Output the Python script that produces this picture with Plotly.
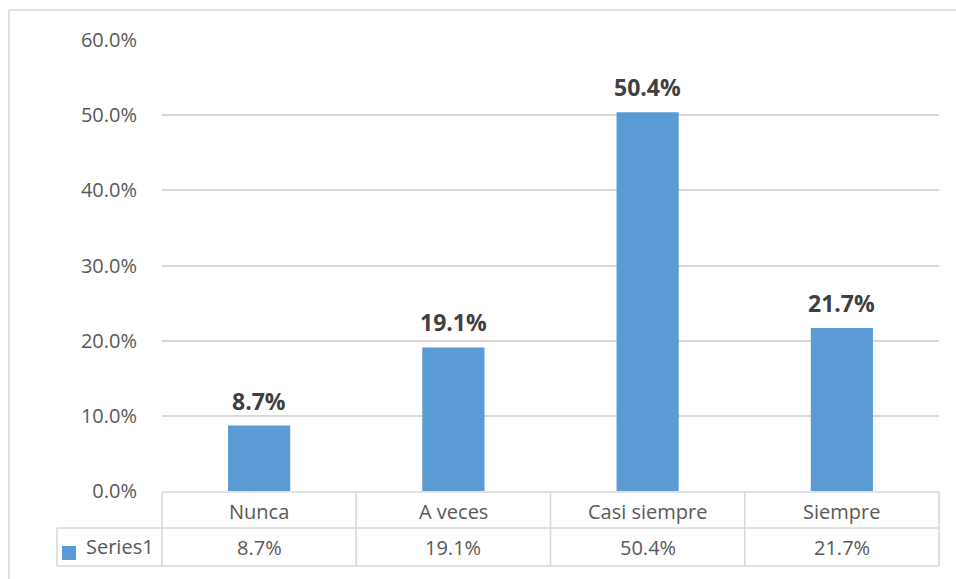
import plotly.graph_objects as go

categories = ["Nunca", "A veces", "Casi siempre", "Siempre"]
values = [8.7, 19.1, 50.4, 21.7]
series_name = "Series1"
y_ticks = [0, 10, 20, 30, 40, 50, 60]

W, H = 956, 579
L, R, T, B = 162, 17, 40, 88
PW, PH = W - L - R, H - T - B
BAR = "#5B9BD5"
GRID = "#D9D9D9"
TXT = "#595959"
FONT = "Open Sans"
FS = 20


def px_x(x):
    return (x - L) / PW


def px_y(y):
    return (H - B - y) / PH


fig = go.Figure()
fig.add_trace(go.Bar(
    x=list(range(len(categories))), y=values, width=0.32,
    marker=dict(color=BAR, line=dict(width=0)),
    name=series_name, showlegend=False, hoverinfo="skip",
))

shapes = []
annotations = []
line = dict(color=GRID, width=1.6)

# data labels
for i, v in enumerate(values):
    annotations.append(dict(
        x=i, y=v, xref="x", yref="y", text=f"<b>{v:.1f}%</b>",
        showarrow=False, xanchor="center", yanchor="bottom", yshift=7,
        font=dict(family=FONT, size=23, color="#404040"),
    ))

# data table
y_top, y_mid, y_bot = 492, 528, 566
x_left = 57
col_edges = [L + PW * k / len(categories) for k in range(len(categories) + 1)]
shapes.append(dict(type="line", xref="paper", yref="paper",
                   x0=px_x(L), x1=px_x(L + PW), y0=px_y(y_top), y1=px_y(y_top), line=line))
for yy in (y_mid, y_bot):
    shapes.append(dict(type="line", xref="paper", yref="paper",
                       x0=px_x(x_left), x1=px_x(L + PW), y0=px_y(yy), y1=px_y(yy), line=line))
shapes.append(dict(type="line", xref="paper", yref="paper",
                   x0=px_x(x_left), x1=px_x(x_left), y0=px_y(y_mid), y1=px_y(y_bot), line=line))
for xe in col_edges:
    shapes.append(dict(type="line", xref="paper", yref="paper",
                       x0=px_x(xe), x1=px_x(xe), y0=px_y(y_top), y1=px_y(y_bot), line=line))

for i, (c, v) in enumerate(zip(categories, values)):
    xc = (col_edges[i] + col_edges[i + 1]) / 2
    annotations.append(dict(x=px_x(xc), y=px_y((y_top + y_mid) / 2 + 1), xref="paper", yref="paper",
                            xanchor="center", yanchor="middle",
                            text=c, showarrow=False, font=dict(family=FONT, size=FS, color=TXT)))
    annotations.append(dict(x=px_x(xc), y=px_y((y_mid + y_bot) / 2), xref="paper", yref="paper",
                            xanchor="center", yanchor="middle",
                            text=f"{v:.1f}%", showarrow=False, font=dict(family=FONT, size=FS, color=TXT)))

# legend key in table
shapes.append(dict(type="rect", xref="paper", yref="paper",
                   x0=px_x(62), x1=px_x(76), y0=px_y(560), y1=px_y(546),
                   fillcolor=BAR, line=dict(width=0)))
annotations.append(dict(x=px_x(84), y=px_y(546), xref="paper", yref="paper",
                        xanchor="left", yanchor="middle",
                        text=series_name, showarrow=False, font=dict(family=FONT, size=FS, color=TXT)))

# outer chart border (only top and left visible)
shapes.append(dict(type="line", xref="paper", yref="paper",
                   x0=px_x(9), x1=px_x(W + 5), y0=px_y(10), y1=px_y(10), line=line))
shapes.append(dict(type="line", xref="paper", yref="paper",
                   x0=px_x(9), x1=px_x(9), y0=px_y(10), y1=px_y(H + 5), line=line))

fig.update_layout(
    width=W, height=H,
    margin=dict(l=L, r=R, t=T, b=B),
    paper_bgcolor="white", plot_bgcolor="white",
    shapes=shapes, annotations=annotations,
    font=dict(family=FONT, size=FS, color=TXT),
    xaxis=dict(range=[-0.5, len(categories) - 0.5], showticklabels=False, showgrid=False,
               zeroline=False, showline=False, ticks=""),
    yaxis=dict(range=[0, 60], tickvals=y_ticks, ticktext=[f"{t:.1f}%" for t in y_ticks],
               showgrid=True, gridcolor=GRID, gridwidth=1.6, zeroline=False, showline=False,
               ticks="", ticklabelstandoff=24, tickfont=dict(family=FONT, size=FS, color=TXT)),
    bargap=0.68,
)

fig.write_html("out.html")
